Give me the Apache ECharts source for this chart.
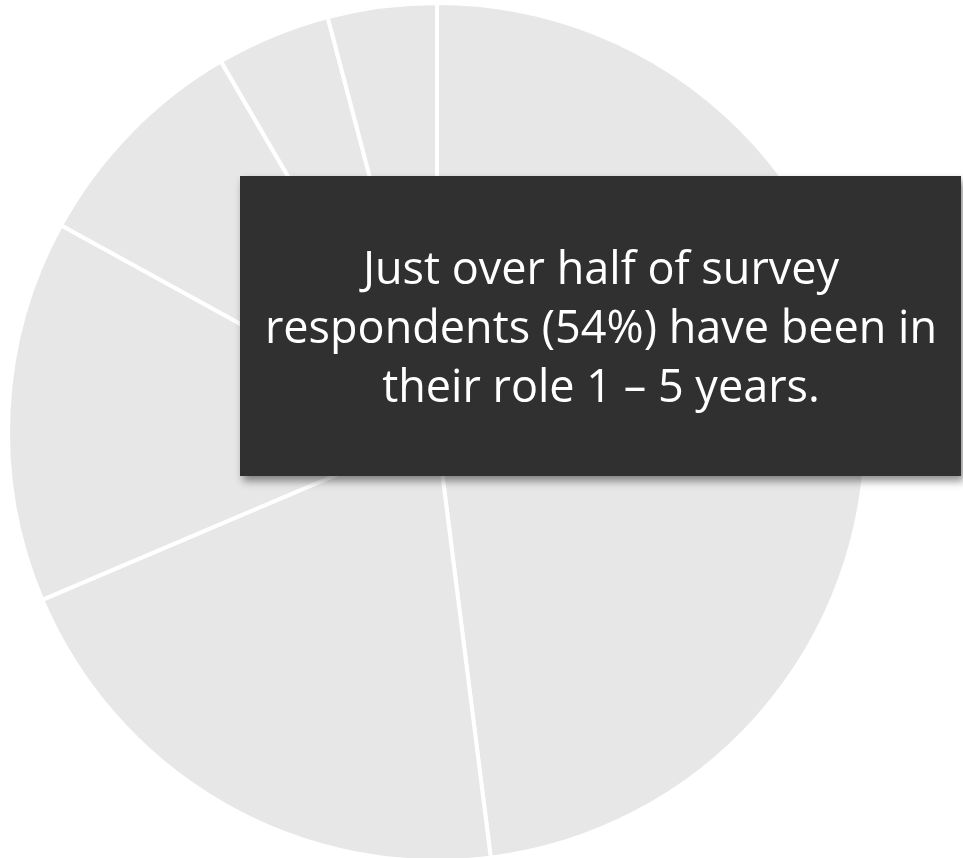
<!DOCTYPE html>
<html>
<head>
<meta charset="utf-8">
<style>
  html, body { margin: 0; padding: 0; background: #ffffff; }
  #chart { width: 963px; height: 858px; }
</style>
<script src="https://cdn.jsdelivr.net/npm/echarts@6/dist/echarts.min.js"></script>
</head>
<body>
<div id="chart"></div>
<script>
// Share of respondents by time in role (percent), clockwise from 12 o'clock
const categories = ['Slice A', 'Slice B', 'Slice C', 'Slice D', 'Slice E', 'Slice F'];
const shares = [48, 20.6, 14.4, 8.6, 4.3, 4.1];

// Callout text shown over the pie
const calloutLines = [
  'Just over half of survey',
  'respondents (54%) have been in',
  'their role 1 \u2013 5 years.'
];

const chart = echarts.init(document.getElementById('chart'), null, { renderer: 'canvas' });

chart.setOption({
  backgroundColor: '#ffffff',
  animation: false,
  series: [{
    type: 'pie',
    center: [437, 432],
    radius: 429,
    startAngle: 90,
    clockwise: true,
    silent: true,
    z: 1,
    label: { show: false },
    labelLine: { show: false },
    itemStyle: {
      color: '#e7e7e7',
      borderColor: '#ffffff',
      borderWidth: 4
    },
    data: categories.map((name, i) => ({ name: name, value: shares[i] }))
  }],
  graphic: [{
    type: 'group',
    left: 240,
    top: 176,
    z: 100,
    children: [{
      type: 'rect',
      z: 100,
      shape: { x: 0, y: 0, width: 721, height: 300 },
      style: {
        fill: '#303030',
        shadowBlur: 8,
        shadowOffsetX: 3,
        shadowOffsetY: 5,
        shadowColor: 'rgba(0,0,0,0.45)'
      }
    }, {
      type: 'text',
      z: 101,
      x: 361,
      y: 154,
      style: {
        text: calloutLines.join('\n'),
        fill: '#ffffff',
        font: '45px "Segoe UI", "Open Sans", sans-serif',
        lineHeight: 59,
        align: 'center',
        verticalAlign: 'middle'
      }
    }]
  }]
});
</script>
</body>
</html>
